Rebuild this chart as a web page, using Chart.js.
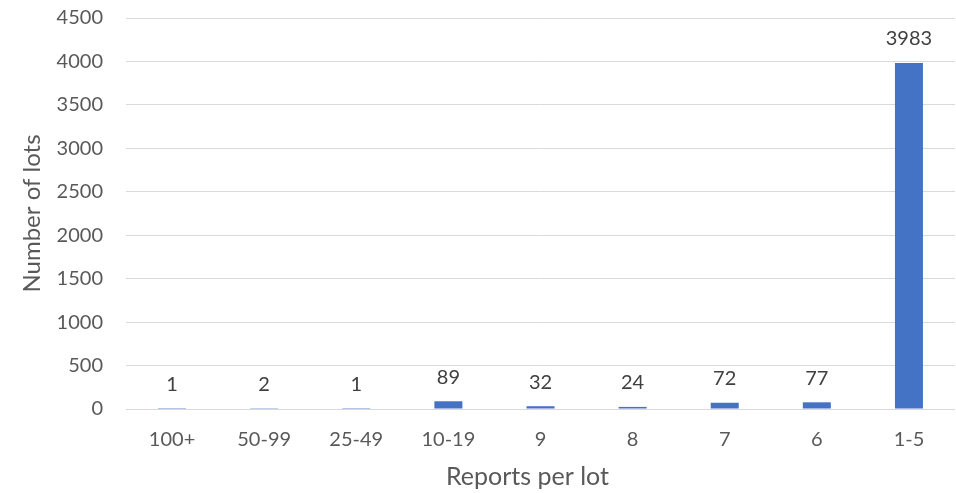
<!DOCTYPE html>
<html><head><meta charset="utf-8">
<script src="https://cdn.jsdelivr.net/npm/chart.js@4.4.0/dist/chart.umd.min.js"></script>
<style>html,body{margin:0;padding:0;background:#fff;}</style>
</head><body>
<canvas id="c" width="956" height="493"></canvas>
<script>
const categories = ["100+", "50-99", "25-49", "10-19", "9", "8", "7", "6", "1-5"];
const lotCounts = [1, 2, 1, 89, 32, 24, 72, 77, 3983];
const yMin = 0, yMax = 4500, yStep = 500;
const xTitle = "Reports per lot";
const yTitle = "Number of lots";

const FONT = "Lato";
const labelPlugin = {
  id: 'valueLabels',
  afterDatasetsDraw(chart) {
    const ctx = chart.ctx;
    const meta = chart.getDatasetMeta(0);
    ctx.save();
    ctx.font = "20px " + FONT;
    ctx.fillStyle = "#404040";
    ctx.textAlign = "center";
    ctx.textBaseline = "middle";
    meta.data.forEach((bar, i) => {
      ctx.fillText(String(lotCounts[i]), bar.x, bar.y - 24);
    });
    // x axis title
    const ca = chart.chartArea;
    ctx.font = "25px " + FONT;
    ctx.fillStyle = "#595959";
    ctx.fillText(xTitle, (ca.left + ca.right) / 2 - 13, chart.height - 16);
    ctx.restore();
  }
};

new Chart(document.getElementById('c'), {
  type: 'bar',
  data: {
    labels: categories,
    datasets: [{
      data: lotCounts,
      backgroundColor: '#4472C4',
      borderWidth: 0,
      categoryPercentage: 1.0,
      barPercentage: 0.304
    }]
  },
  options: {
    responsive: false,
    animation: false,
    devicePixelRatio: 1,
    layout: { padding: { top: 18, right: 1, left: 0, bottom: 0 } },
    plugins: { legend: { display: false }, tooltip: { enabled: false } },
    scales: {
      x: {
        grid: { display: false, drawTicks: false },
        border: { display: false },
        ticks: { color: '#595959', font: { family: FONT, size: 20 }, padding: 19, maxRotation: 0, autoSkip: false },
        title: { display: false, text: xTitle },
        afterFit(s) { s.height = 84; }
      },
      y: {
        min: yMin, max: yMax,
        grid: { color: '#D9D9D9', lineWidth: 1, drawTicks: false },
        border: { display: false },
        ticks: { stepSize: yStep, color: '#595959', font: { family: FONT, size: 20 }, padding: 23,
                 callback: (v) => String(v) },
        title: { display: true, text: yTitle, color: '#595959', font: { family: FONT, size: 24 }, padding: { top: 18, bottom: 0 } },
        afterFit(s) { s.width = 126; s.paddingTop = 0; s.paddingBottom = 0; }
      }
    }
  },
  plugins: [labelPlugin]
});
</script>
</body></html>
